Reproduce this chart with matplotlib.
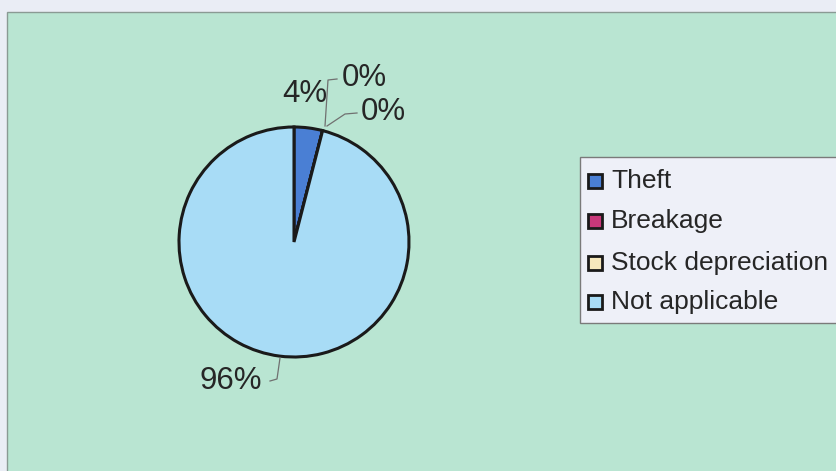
import matplotlib
matplotlib.use("Agg")
import matplotlib.pyplot as plt
from matplotlib.patches import Rectangle

categories = ["Theft", "Breakage", "Stock depreciation", "Not applicable"]
values = [4, 0, 0, 96]
pct_labels = ["4%", "0%", "0%", "96%"]
colors = ["#4a7fd4", "#c8387a", "#f6e8bc", "#a8dcf6"]

W, H = 837, 471
fig = plt.figure(figsize=(W / 100, H / 100), dpi=100)
fig.patch.set_facecolor("#eaedf5")
ax = fig.add_axes([0, 0, 1, 1])
ax.set_xlim(0, W)
ax.set_ylim(0, H)
ax.axis("off")

def Y(py):
    return H - py

# green panel
ax.add_patch(Rectangle((7, -5), W, Y(12) + 5, facecolor="#b9e5d2",
                       edgecolor="#8a9a94", linewidth=1.0, zorder=0))

cx, cy, r = 294, 242, 115
ax.pie(values, colors=colors, startangle=90, counterclock=False,
       center=(cx, Y(cy)), radius=r, frame=True,
       wedgeprops=dict(edgecolor="#1a1a1a", linewidth=2.2))
ax.set_xlim(0, W)
ax.set_ylim(0, H)
ax.set_aspect("equal")
ax.axis("off")

font = ["Liberation Sans", "DejaVu Sans"]
tc = "#262626"
lc = "#707070"

# percentage labels with leader lines
label_pos = [(305, 94), (364, 78), (383, 112), (231, 381)]
for lab, (x, y) in zip(pct_labels, label_pos):
    ax.text(x, Y(y), lab, fontsize=22.5, family=font, color=tc,
            ha="center", va="center", zorder=5)

ax.plot([325, 328, 337], [Y(126), Y(80), Y(79)], color=lc, lw=0.9, zorder=4)
ax.plot([327, 345, 357], [Y(126), Y(114), Y(113)], color=lc, lw=0.9, zorder=4)
ax.plot([280, 277, 270], [Y(358), Y(379), Y(381)], color=lc, lw=0.9, zorder=4)

# legend
ax.add_patch(Rectangle((580, Y(323)), W - 580 + 5, 323 - 157,
                       facecolor="#eef0f8", edgecolor="#7a7a7a",
                       linewidth=1.0, zorder=3))
rows = [181, 221, 263, 302]
for cat, col, ry in zip(categories, colors, rows):
    ax.add_patch(Rectangle((588, Y(ry + 7)), 14, 14, facecolor=col,
                           edgecolor="#1a1a1a", linewidth=2.0, zorder=4))
    ax.text(611, Y(ry), cat, fontsize=19, family=font, color=tc,
            ha="left", va="center", zorder=5)

fig.savefig("out.png", dpi=100, facecolor=fig.get_facecolor())
